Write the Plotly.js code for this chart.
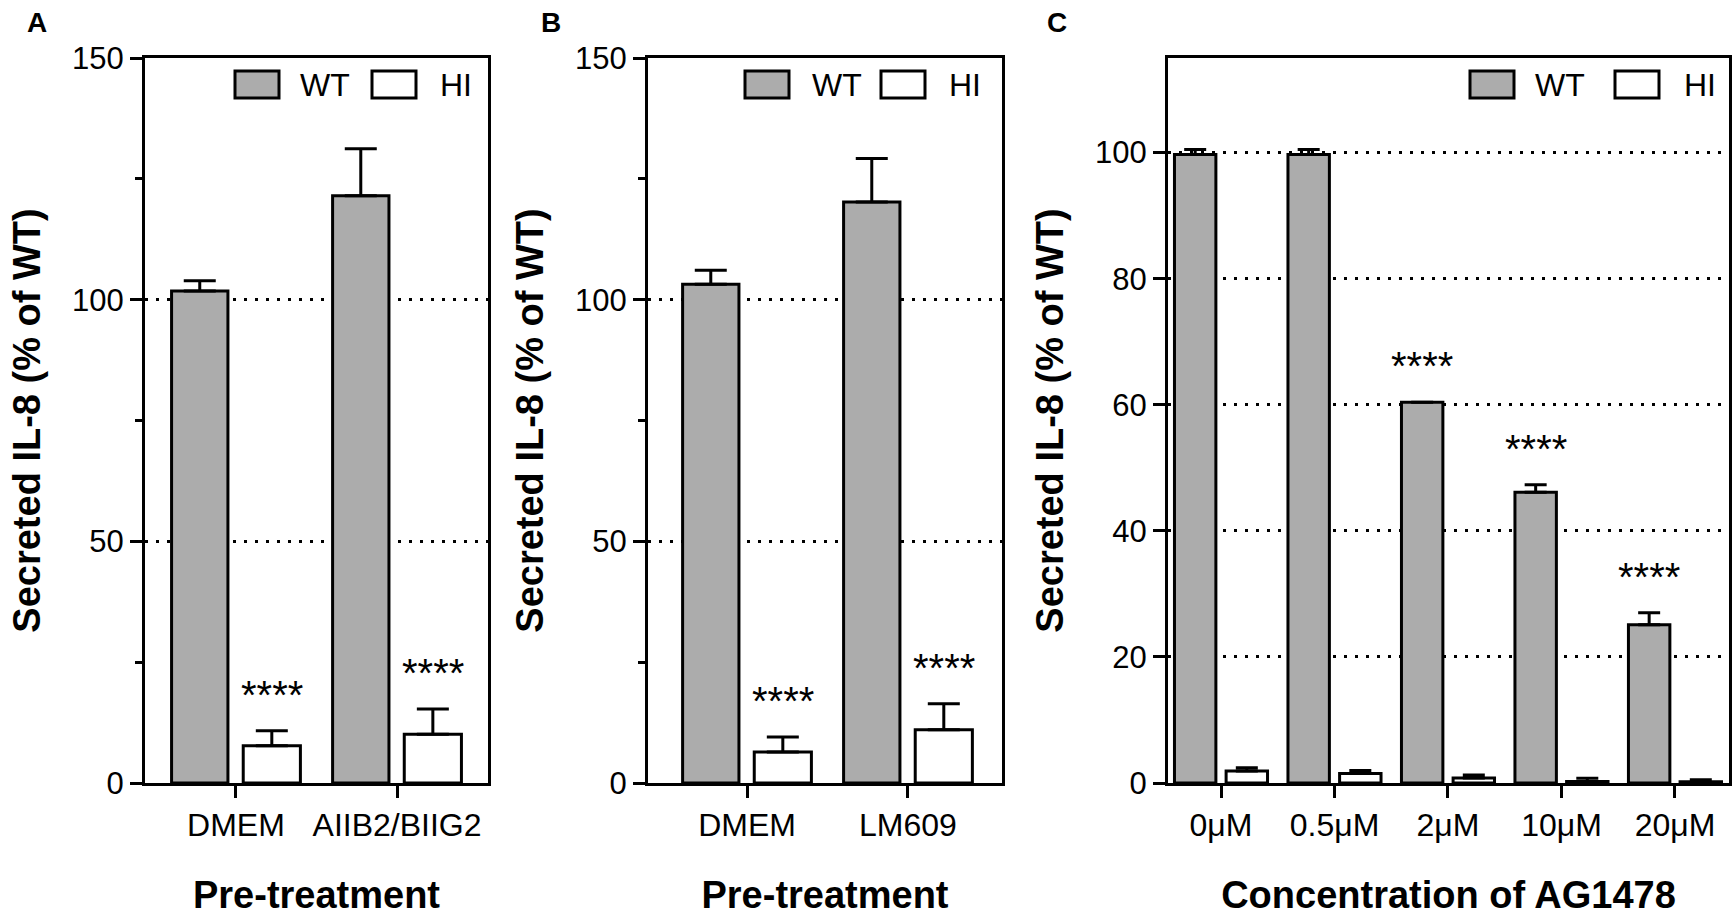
<!DOCTYPE html>
<html>
<head>
<meta charset="utf-8">
<script src="https://cdn.plot.ly/plotly-3.0.1.min.js"></script>
<style>
  html, body { margin: 0; padding: 0; background: #ffffff; }
  #chart { width: 1736px; height: 916px; }
</style>
</head>
<body>
<div id="chart"></div>
<script>
// Panel A - integrin blocking antibodies
const catsA = ['DMEM', 'AIIB2/BIIG2'];
const wtA = [101.8, 121.5];
const wtErrA = [2.1, 9.7];
const hiA = [7.7, 10.1];
const hiErrA = [3.1, 5.2];

// Panel B - LM609
const catsB = ['DMEM', 'LM609'];
const wtB = [103.2, 120.2];
const wtErrB = [2.9, 9.0];
const hiB = [6.4, 11.0];
const hiErrB = [3.1, 5.4];

// Panel C - AG1478 dose
const catsC = ['0μM', '0.5μM', '2μM', '10μM', '20μM'];
const wtC = [99.7, 99.7, 60.4, 46.1, 25.1];
const wtErrC = [0.8, 0.8, 0, 1.2, 1.9];
const hiC = [1.9, 1.5, 0.8, 0.25, 0.2];
const hiErrC = [0.5, 0.5, 0.45, 0.5, 0.3];

// significance marks: which category carries "****"
const starsA = [0, 1];   // over HI bars
const starsB = [0, 1];   // over HI bars
const starsC = [2, 3, 4]; // over WT bars

const W = 1736, H = 916;
const px = v => v / W;
const py = v => 1 - v / H;

const FONT = 'Liberation Sans, Arial, Helvetica, sans-serif';
const GREY = '#acacac';

function barTrace(name, cats, vals, errs, xa, ya, fill, offset, width, capw) {
    return {
        type: 'bar', name: name, x: cats, y: vals,
        xaxis: xa, yaxis: ya,
        offset: offset, width: width,
        marker: { color: fill, line: { color: '#000', width: 3 } },
        error_y: {
            type: 'data', symmetric: false,
            array: errs, arrayminus: errs.map(() => 0),
            color: '#000', thickness: 3, width: capw
        },
        showlegend: false, hoverinfo: 'x+y'
    };
}

const data = [
    barTrace('WT', catsA, wtA, wtErrA, 'x', 'y', GREY, -0.40, 0.35, 16),
    barTrace('HI', catsA, hiA, hiErrA, 'x', 'y', '#ffffff', 0.045, 0.355, 16),
    barTrace('WT', catsB, wtB, wtErrB, 'x2', 'y2', GREY, -0.40, 0.35, 16),
    barTrace('HI', catsB, hiB, hiErrB, 'x2', 'y2', '#ffffff', 0.045, 0.355, 16),
    barTrace('WT', catsC, wtC, wtErrC, 'x3', 'y3', GREY, -0.41, 0.365, 11),
    barTrace('HI', catsC, hiC, hiErrC, 'x3', 'y3', '#ffffff', 0.045, 0.365, 11)
];

function xAxis(range, domain, anchor, title) {
    return {
        type: 'category', range: range, domain: domain, anchor: anchor,
        showline: true, linecolor: '#000', linewidth: 3, mirror: true,
        ticks: 'outside', ticklen: 12, tickwidth: 3, tickcolor: '#000',
        showgrid: false, zeroline: false,
        tickfont: { family: FONT, size: 32, color: '#000' },
        title: { text: title, standoff: 44, font: { family: FONT, size: 38, weight: 'bold', color: '#000' } }
    };
}

function yAxis(range, dtick, minor, anchor) {
    const ax = {
        range: range, domain: [py(783), py(58)], anchor: anchor,
        dtick: dtick, tick0: 0,
        showline: true, linecolor: '#000', linewidth: 3, mirror: true,
        ticks: 'outside', ticklen: 12, tickwidth: 3, tickcolor: '#000',
        showgrid: true, gridcolor: '#000', gridwidth: 3, griddash: '3px,8px',
        zeroline: false,
        tickfont: { family: FONT, size: 31, color: '#000' },
        title: { text: 'Secreted IL-8 (% of WT)', standoff: 20, font: { family: FONT, size: 38, weight: 'bold', color: '#000' } }
    };
    if (minor) {
        ax.minor = { dtick: minor, ticks: 'outside', ticklen: 7, tickwidth: 3, tickcolor: '#000', showgrid: false };
    }
    return ax;
}

// legend swatches and labels drawn per panel
const shapes = [];
const annotations = [];
function legendAt(wtX, wtTextX, hiX, hiTextX) {
    shapes.push({ type: 'rect', xref: 'paper', yref: 'paper', x0: px(wtX), x1: px(wtX + 44), y0: py(98), y1: py(71),
        fillcolor: GREY, line: { color: '#000', width: 3 } });
    shapes.push({ type: 'rect', xref: 'paper', yref: 'paper', x0: px(hiX), x1: px(hiX + 44), y0: py(98), y1: py(71),
        fillcolor: '#ffffff', line: { color: '#000', width: 3 } });
    [['WT', wtTextX], ['HI', hiTextX]].forEach(([t, x]) => {
        annotations.push({ text: t, xref: 'paper', yref: 'paper', x: px(x), y: py(85),
            xanchor: 'left', yanchor: 'middle', showarrow: false,
            font: { family: FONT, size: 32, color: '#000' } });
    });
}
legendAt(235, 298, 372, 438);
legendAt(745, 810, 881, 947);
legendAt(1470, 1533, 1615, 1682);

// panel letters
[['A', 37], ['B', 551], ['C', 1057]].forEach(([t, x]) => {
    annotations.push({ text: t, xref: 'paper', yref: 'paper', x: px(x), y: py(22),
        xanchor: 'center', yanchor: 'middle', showarrow: false,
        font: { family: FONT, size: 28, weight: 'bold', color: '#000' } });
});

// significance stars
function stars(idx, vals, errs, shift, xa, ya) {
    idx.forEach(i => {
        annotations.push({ text: '****', xref: xa, yref: ya, x: i + shift, y: vals[i] + errs[i],
            xanchor: 'center', yanchor: 'bottom', yshift: 12, showarrow: false,
            font: { family: FONT, size: 40, color: '#000' } });
    });
}
stars(starsA, hiA, hiErrA, 0.2225, 'x', 'y');
stars(starsB, hiB, hiErrB, 0.2225, 'x2', 'y2');
stars(starsC, wtC, wtErrC, -0.2275, 'x3', 'y3');

const layout = {
    width: W, height: H,
    margin: { l: 0, r: 0, t: 0, b: 0 },
    paper_bgcolor: '#ffffff', plot_bgcolor: '#ffffff',
    barmode: 'overlay',
    showlegend: false,
    xaxis: xAxis([-0.565, 1.565], [px(145), px(488)], 'y', 'Pre-treatment'),
    xaxis2: xAxis([-0.615, 1.584], [px(648), px(1002)], 'y2', 'Pre-treatment'),
    xaxis3: xAxis([-0.467, 4.476], [px(1168), px(1729)], 'y3', 'Concentration of AG1478'),
    yaxis: yAxis([0, 150], 50, 25, 'x'),
    yaxis2: yAxis([0, 150], 50, 25, 'x2'),
    yaxis3: yAxis([0, 115], 20, null, 'x3'),
    shapes: shapes,
    annotations: annotations
};

Plotly.newPlot('chart', data, layout, { displayModeBar: false, staticPlot: true });
</script>
</body>
</html>
